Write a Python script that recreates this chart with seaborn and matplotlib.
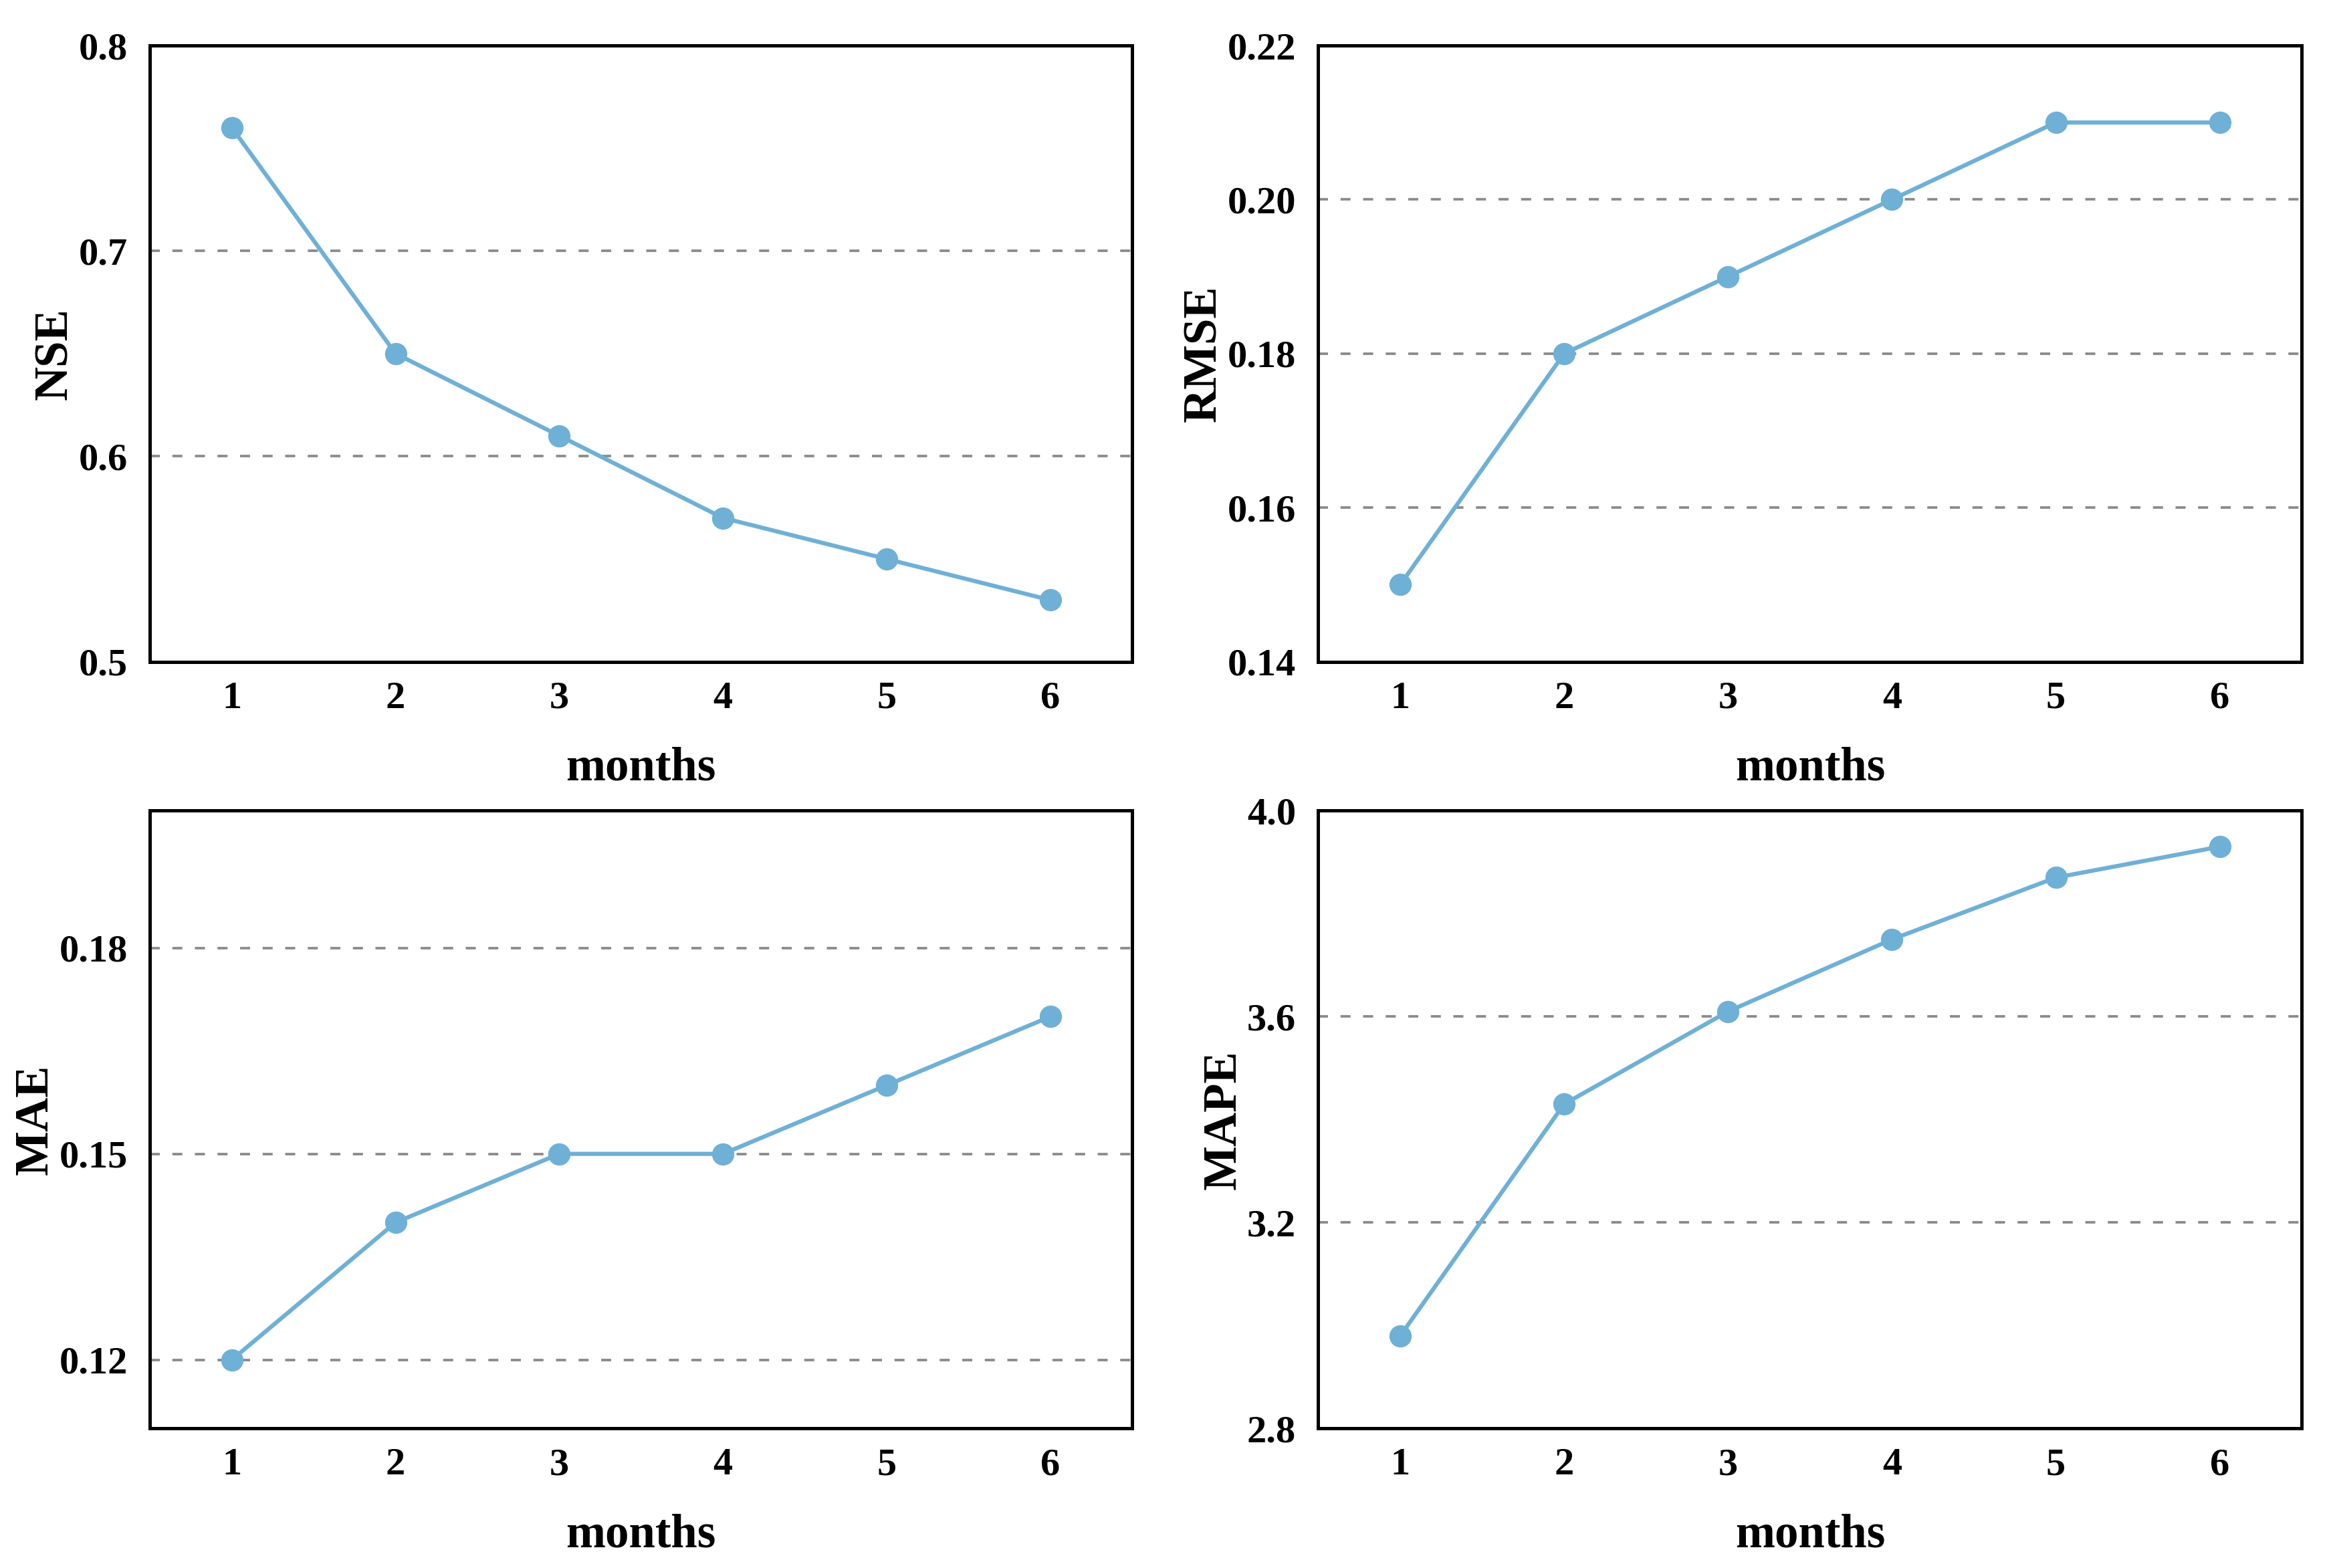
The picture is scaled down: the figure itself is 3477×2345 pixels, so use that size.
import numpy as np
import pandas as pd
import seaborn as sns
import matplotlib.pyplot as plt

sns.set_style('white')
plt.rcParams['font.family'] = ['Liberation Serif', 'DejaVu Serif']
plt.rcParams['font.weight'] = 'bold'

# values
months = [1, 2, 3, 4, 5, 6]
nse = [0.76, 0.65, 0.61, 0.57, 0.55, 0.53]
rmse = [0.15, 0.18, 0.19, 0.20, 0.21, 0.21]
mae = [0.12, 0.14, 0.15, 0.15, 0.16, 0.17]
mape = [2.98, 3.43, 3.61, 3.75, 3.87, 3.93]

panels = [
    ('NSE', nse, (0.5, 0.8), [0.5, 0.6, 0.7, 0.8], '%.1f', -0.074),
    ('RMSE', rmse, (0.14, 0.22), [0.14, 0.16, 0.18, 0.20, 0.22], '%.2f', -0.094),
    ('MAE', mae, (0.11, 0.20), [0.12, 0.15, 0.18], '%.2f', -0.094),
    ('MAPE', mape, (2.8, 4.0), [2.8, 3.2, 3.6, 4.0], '%.1f', -0.074),
]

color = '#6FB0D6'
fig = plt.figure(figsize=(3477 / 300, 2345 / 300), dpi=300)
boxes = [
    [0.0645, 0.578, 0.4225, 0.393],
    [0.567, 0.578, 0.423, 0.393],
    [0.0645, 0.089, 0.4225, 0.394],
    [0.567, 0.089, 0.423, 0.394],
]

for box, (name, vals, ylim, yticks, fmt, ylab_x) in zip(boxes, panels):
    ax = fig.add_axes(box)
    df = pd.DataFrame({'months': months, name: vals})
    for t in yticks:
        if ylim[0] < t < ylim[1]:
            ax.axhline(t, color='#8a8a8a', lw=0.9, ls=(0, (4, 5)), zorder=0)
    sns.lineplot(data=df, x='months', y=name, ax=ax, color=color, lw=1.5,
                 marker='o', markersize=8, markeredgewidth=0,
                 markerfacecolor=color)
    ax.set_xlim(0.5, 6.5)
    ax.set_ylim(*ylim)
    ax.set_xticks(months)
    ax.set_yticks(yticks)
    ax.set_yticklabels([fmt % t for t in yticks])
    ax.tick_params(direction='in', length=5.5, width=1.2, labelsize=14,
                   colors='black', pad=8)
    ax.tick_params(axis='x', pad=7)
    for lab in ax.get_xticklabels() + ax.get_yticklabels():
        lab.set_fontweight('bold')
    for sp in ax.spines.values():
        sp.set_visible(True)
        sp.set_color('black')
        sp.set_linewidth(1.2)
    ax.set_xlabel('months', fontsize=17, fontweight='bold', labelpad=11,
                  color='black')
    ax.set_ylabel(name, fontsize=17, fontweight='bold', color='black')
    ax.yaxis.set_label_coords(ylab_x, 0.5)

fig.savefig('out.png', dpi=300, facecolor='white')
